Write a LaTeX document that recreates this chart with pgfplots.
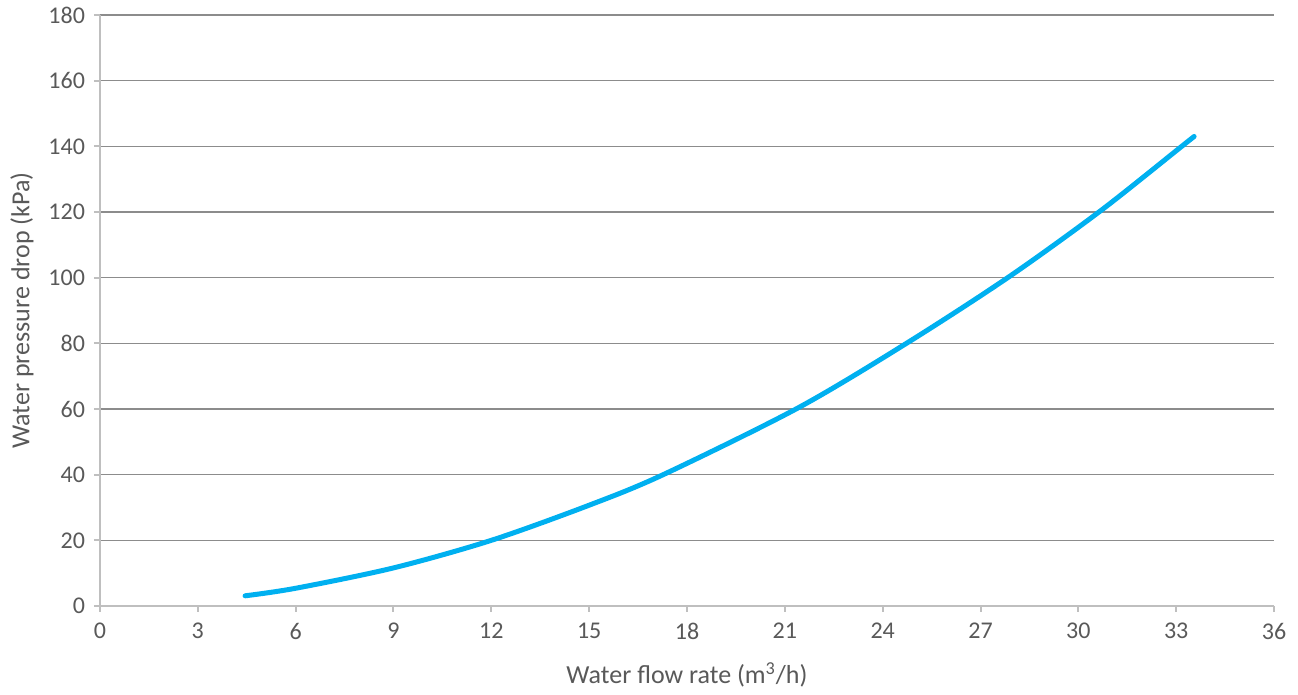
\documentclass[border=0pt]{standalone}
\usepackage{pgfplots}
\pgfplotsset{compat=1.18}
\usepackage{fontspec}
\setmainfont{Carlito}
\definecolor{curve}{HTML}{00B0F0}
\definecolor{gridc}{HTML}{8C8C8C}
\definecolor{axc}{HTML}{BFBFBF}
\definecolor{txt}{HTML}{595959}
\begin{document}
\begin{tikzpicture}
\path[use as bounding box] (-50pt,-44.5pt) rectangle (599pt,303pt);
\begin{axis}[
  scale only axis,
  width=587pt, height=295.5pt,
  xmin=0, xmax=36, ymin=0, ymax=180,
  xtick={0,3,...,36}, ytick={0,20,...,180},
  axis lines*=left,
  axis line style={axc, line width=1.2pt},
  tick style={axc, line width=1pt},
  tick align=outside,
  major tick length=3pt,
  ymajorgrids,
  major grid style={gridc, line width=0.6pt},
  /pgf/number format/assume math mode=true,
  ticklabel style={font=\fontsize{12}{14}\selectfont, text=txt},
  xticklabel style={yshift=-2pt},
  yticklabel style={xshift=-1pt},
  label style={font=\fontsize{13}{15}\selectfont, text=txt},
  xlabel={Water flow rate (m\textsuperscript{3}/h)},
  ylabel={Water pressure drop (kPa)},
  xlabel style={at={(axis description cs:0.5,-0.1168)}, anchor=center},
  ylabel style={at={(axis description cs:-0.0665,0.5)}, anchor=center},
]
\addplot[curve, line width=2.5pt, smooth, line cap=round] coordinates {
(4.45,3.1) (6,5.4) (9,11.6) (12,20) (15,30.7) (17.27,40) (21.4,60.3) (24.73,80) (27.85,100.1) (30.66,120.2) (33.12,139.6) (33.55,143)
};
\end{axis}
\end{tikzpicture}
\end{document}
